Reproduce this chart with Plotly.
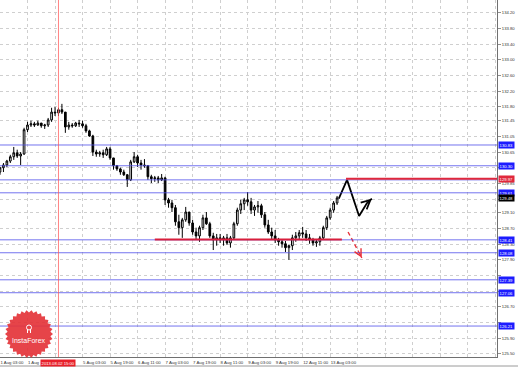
import math
import plotly.graph_objects as go

# ---------------- data ----------------
bar_index = list(range(99))
opens = [130.14,130.25,130.32,130.42,130.53,130.63,130.55,130.60,131.22,131.34,
         131.37,131.34,131.39,131.32,131.34,131.47,131.67,131.65,131.73,131.67,
         131.29,131.34,131.32,131.39,131.37,131.32,131.19,131.06,130.65,130.60,
         130.63,130.58,130.73,130.50,130.30,130.22,130.14,130.07,129.94,130.40,
         130.53,130.37,130.32,130.30,130.02,129.97,129.99,129.94,129.99,129.43,
         129.35,129.23,128.87,128.72,128.92,129.12,128.84,128.61,128.51,128.72,
         128.97,128.82,128.51,128.41,128.46,128.41,128.46,128.33,128.46,128.82,
         129.17,129.33,129.43,129.38,129.17,129.25,129.28,129.05,128.79,128.61,
         128.51,128.41,128.36,128.31,128.21,128.26,128.46,128.51,128.59,128.56,
         128.46,128.41,128.33,128.36,128.46,128.72,128.97,129.17,129.35]
highs = [130.27,130.37,130.45,130.58,130.78,130.71,130.65,131.27,131.42,131.45,
         131.42,131.45,131.39,131.37,131.52,131.78,131.80,131.78,131.88,131.67,
         131.42,131.39,131.42,131.47,131.45,131.37,131.22,131.09,130.71,130.68,
         130.71,130.78,130.78,130.50,130.32,130.25,130.20,130.09,130.45,130.65,
         130.58,130.45,130.47,130.32,130.07,130.04,130.04,130.09,130.02,129.48,
         129.43,129.30,129.05,128.97,129.25,129.12,128.92,128.72,128.77,129.05,
         129.12,128.87,128.59,128.56,128.56,128.51,128.56,128.51,128.87,129.23,
         129.43,129.48,129.63,129.48,129.30,129.40,129.33,129.12,128.92,128.72,
         128.66,128.46,128.41,128.38,128.28,128.54,128.61,128.66,128.74,128.66,
         128.56,128.46,128.41,128.51,128.77,129.02,129.23,129.40,129.53]
lows = [130.07,130.14,130.27,130.37,130.45,130.50,130.32,130.58,131.16,131.29,
        131.29,131.32,131.27,131.24,131.29,131.42,131.57,131.57,131.62,131.14,
        131.22,131.27,131.29,131.29,131.27,131.14,131.04,130.55,130.53,130.53,
        130.50,130.55,130.45,130.20,130.17,130.07,130.04,129.76,129.91,130.37,
        130.27,130.20,130.25,129.94,129.86,129.89,129.86,129.91,129.30,129.23,
        129.12,128.77,128.54,128.46,128.87,128.77,128.54,128.41,128.36,128.66,
        128.79,128.46,128.15,128.26,128.33,128.26,128.28,128.21,128.41,128.77,
        129.07,129.17,129.28,129.07,129.02,129.10,128.97,128.72,128.56,128.41,
        128.33,128.26,128.21,128.10,127.90,128.15,128.36,128.41,128.46,128.38,
        128.31,128.26,128.23,128.26,128.41,128.66,128.92,129.10,129.30]
closes = [130.25,130.32,130.42,130.53,130.63,130.55,130.60,131.22,131.34,131.37,
          131.34,131.39,131.32,131.34,131.47,131.67,131.65,131.73,131.67,131.29,
          131.34,131.32,131.39,131.37,131.32,131.19,131.06,130.65,130.60,130.63,
          130.58,130.73,130.50,130.30,130.22,130.14,130.07,129.94,130.40,130.53,
          130.37,130.32,130.30,130.02,129.97,129.99,129.94,129.99,129.43,129.35,
          129.23,128.87,128.72,128.92,129.12,128.84,128.61,128.51,128.72,128.97,
          128.82,128.51,128.41,128.46,128.41,128.46,128.33,128.46,128.82,129.17,
          129.33,129.43,129.38,129.17,129.25,129.28,129.05,128.79,128.61,128.51,
          128.41,128.36,128.31,128.21,128.26,128.46,128.51,128.59,128.56,128.46,
          128.41,128.33,128.36,128.46,128.72,128.97,129.17,129.35,129.48]

time_tick_pos = list(range(0, 145, 8))
time_tick_text = ["1 Aug 03:00", "1 Aug", "", "5 Aug 03:00", "5 Aug 19:00",
                  "6 Aug 11:00", "7 Aug 03:00", "7 Aug 19:00", "8 Aug 11:00", "9 Aug 03:00",
                  "9 Aug 19:00", "12 Aug 11:00", "13 Aug 03:00"]
price_ticks = [134.20, 133.80, 133.40, 133.00, 132.60, 132.20, 131.80, 131.45, 131.05, 130.65,
               130.25, 129.85, 129.45, 129.10, 128.70, 128.30, 127.90, 127.50, 127.10, 126.70,
               126.30, 125.90, 125.50]
price_tick_hidden = [130.25, 129.45, 127.50, 127.10, 126.30]

blue_levels = [130.83, 130.30, 129.94, 129.61, 128.41, 128.08, 127.39, 127.06, 126.21]
blue_labeled = [True, True, False, True, True, True, True, True, True]
resistance = 129.97
resistance_start = 100.6
support = 128.42
support_range = [45, 99.4]
current_price = 129.48
cursor_bar = 17
cursor_label = "2013.08.02 15:00"

bull_path_x = [98.5, 100.9, 104.4, 106.7, 108.1]
bull_path_y = [129.46, 129.94, 129.02, 129.35, 129.46]
bear_path_x = [101.2, 105.2]
bear_path_y = [128.61, 127.95]

# ---------------- figure ----------------
W, H = 518, 367
ML, MR, MT, MB = 0, 21, 0, 10
PW, PH = W - ML - MR, H - MT - MB
Y0, Y1 = 125.42, 134.53
X0, X1 = 0, 144.5
FONT = "Liberation Sans"

fig = go.Figure()
fig.add_trace(go.Candlestick(
    x=bar_index, open=opens, high=highs, low=lows, close=closes,
    increasing=dict(line=dict(color="black", width=1), fillcolor="white"),
    decreasing=dict(line=dict(color="black", width=1), fillcolor="black"),
    whiskerwidth=0, hoverinfo="skip"))

fig.add_trace(go.Scatter(x=bull_path_x, y=bull_path_y, mode="lines",
                         line=dict(color="black", width=1.8), hoverinfo="skip"))
fig.add_trace(go.Scatter(x=bear_path_x, y=bear_path_y, mode="lines",
                         line=dict(color="#e8303a", width=1.4, dash="4px,3px"), hoverinfo="skip"))

shapes = []
for lv in blue_levels:
    shapes.append(dict(type="line", xref="paper", x0=0, x1=1, yref="y", y0=lv, y1=lv,
                       line=dict(color="rgba(80,80,235,0.8)", width=1), layer="above"))
shapes.append(dict(type="line", xref="x", x0=resistance_start, x1=X1, yref="y",
                   y0=resistance, y1=resistance, line=dict(color="#e0283c", width=2)))
shapes.append(dict(type="line", xref="x", x0=support_range[0], x1=support_range[1], yref="y",
                   y0=support, y1=support, line=dict(color="#d81e3c", width=2)))
shapes.append(dict(type="line", xref="x", x0=cursor_bar, x1=cursor_bar, yref="paper",
                   y0=0, y1=1, line=dict(color="rgba(255,90,90,0.75)", width=1)))

# bottom window border
shapes.append(dict(type="line", xref="paper", x0=0, x1=W / PW, yref="paper",
                   y0=-9 / PH, y1=-9 / PH, line=dict(color="#9a9a9a", width=1)))

# InstaForex badge (decoration)
def px2paper(px, py):
    return px / PW, (PH - py) / PH

cx, cy, r_out, r_in, n = 29, 334, 24, 21.5, 30
pts = []
for k in range(2 * n):
    ang = math.pi * k / n
    rr = r_out if k % 2 == 0 else r_in
    pts.append(px2paper(cx + rr * math.cos(ang), cy + rr * math.sin(ang)))
path = "M " + " L ".join(f"{a:.5f},{b:.5f}" for a, b in pts) + " Z"
shapes.append(dict(type="path", xref="paper", yref="paper", path=path,
                   fillcolor="rgba(228,52,58,0.92)", line=dict(width=0), layer="above"))
ix0, iy0 = px2paper(cx - 2.5, cy - 9)
ix1, iy1 = px2paper(cx + 2.5, cy - 4)
shapes.append(dict(type="circle", xref="paper", yref="paper", x0=ix0, x1=ix1, y0=iy0, y1=iy1,
                   line=dict(color="white", width=1), layer="above"))
for dx in (-1.5, 1.5):
    a, b = px2paper(cx + dx, cy - 5)
    c, d = px2paper(cx + dx, cy - 1)
    shapes.append(dict(type="line", xref="paper", yref="paper", x0=a, x1=c, y0=b, y1=d,
                       line=dict(color="white", width=1), layer="above"))

annotations = []
lx, ly = px2paper(cx, cy + 6)
annotations.append(dict(xref="paper", yref="paper", x=lx, y=ly, xanchor="center",
                        yanchor="middle", text="InstaForex", showarrow=False,
                        font=dict(family=FONT, size=7, color="white")))

for lv, lab in zip(blue_levels, blue_labeled):
    if lab:
        annotations.append(dict(xref="paper", yref="y", x=1, y=lv, xanchor="left", xshift=1,
                                yanchor="middle", text=f"{lv:.2f}", showarrow=False,
                                bgcolor="#1c1cff", borderpad=0.6,
                                font=dict(family=FONT, size=4.2, color="white")))
annotations.append(dict(xref="paper", yref="y", x=1, y=resistance, xanchor="left", xshift=1,
                        yanchor="middle", text=f"{resistance:.2f}", showarrow=False,
                        bgcolor="#e0283c", borderpad=0.6,
                        font=dict(family=FONT, size=4.2, color="white")))
annotations.append(dict(xref="paper", yref="y", x=1, y=current_price, xanchor="left", xshift=1,
                        yanchor="middle", text=f"{current_price:.2f}", showarrow=False,
                        bgcolor="black", borderpad=0.6,
                        font=dict(family=FONT, size=4.2, color="white")))
annotations.append(dict(xref="x", yref="paper", x=cursor_bar, y=0, yanchor="top", yshift=-2,
                        xanchor="center", text=cursor_label, showarrow=False,
                        bgcolor="#e8202a", borderpad=0.6,
                        font=dict(family=FONT, size=4.2, color="white")))

# arrow heads
annotations.append(dict(xref="x", yref="y", axref="x", ayref="y",
                        x=bull_path_x[-1], y=bull_path_y[-1], ax=bull_path_x[-2], ay=bull_path_y[-2],
                        text="", showarrow=True, arrowhead=5, arrowsize=1.1, arrowwidth=1.6,
                        arrowcolor="black", standoff=0))
annotations.append(dict(xref="x", yref="y", axref="x", ayref="y",
                        x=bear_path_x[-1], y=bear_path_y[-1], ax=104.2, ay=128.12,
                        text="", showarrow=True, arrowhead=5, arrowsize=1.1, arrowwidth=1.3,
                        arrowcolor="#e8303a", standoff=0))

fig.update_layout(
    width=W, height=H, margin=dict(l=ML, r=MR, t=MT, b=MB, pad=0),
    paper_bgcolor="white", plot_bgcolor="white", showlegend=False,
    shapes=shapes, annotations=annotations,
    xaxis=dict(range=[X0, X1], tickmode="array", tickvals=time_tick_pos,
               ticktext=time_tick_text + [""] * (len(time_tick_pos) - len(time_tick_text)),
               ticklabelposition="outside right", ticks="", automargin=False,
               tickangle=0, ticklabelstandoff=1,
               tickfont=dict(family=FONT, size=4.3, color="#333"),
               showgrid=True, gridcolor="#cfcfcf", griddash="dot", gridwidth=1,
               showline=True, linecolor="#707070", linewidth=1, zeroline=False,
               rangeslider=dict(visible=False), fixedrange=True),
    yaxis=dict(range=[Y0, Y1], side="right", tickmode="array", tickvals=price_ticks,
               ticktext=["" if v in price_tick_hidden else f"{v:.2f}" for v in price_ticks],
               automargin=False,
               ticks="outside", ticklen=3, tickcolor="#909090",
               tickfont=dict(family=FONT, size=4.2, color="#333"),
               showgrid=True, gridcolor="#cfcfcf", griddash="dot", gridwidth=1,
               showline=True, linecolor="#707070", linewidth=1, zeroline=False,
               fixedrange=True),
)

fig.write_html("out.html")
